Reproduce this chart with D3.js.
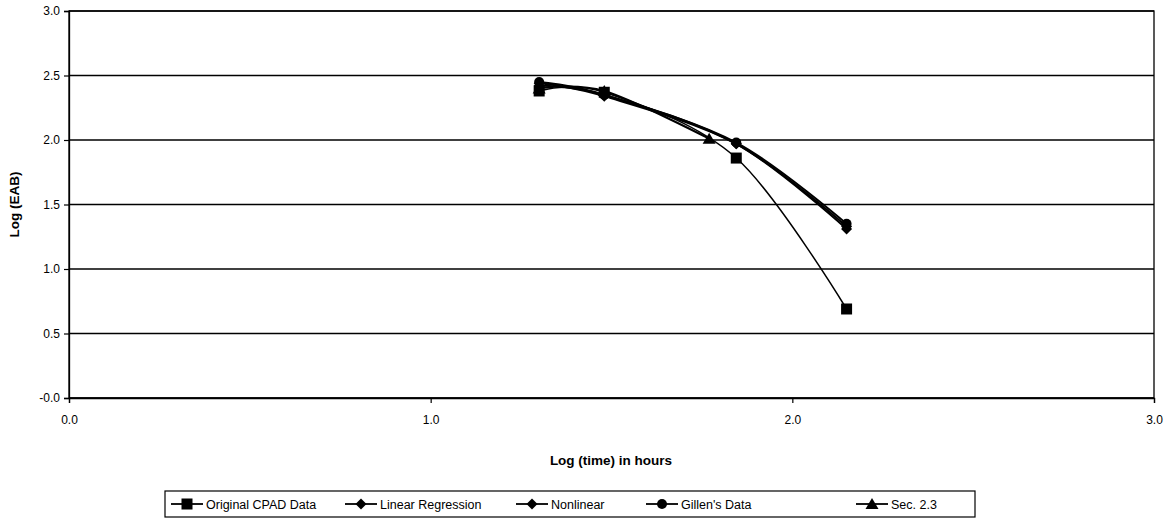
<!DOCTYPE html>
<html><head><meta charset="utf-8">
<script src="https://cdn.jsdelivr.net/npm/d3@7/dist/d3.min.js"></script>
<style>
body{margin:0;background:#fff;}
svg{display:block;font-family:"Liberation Sans",Arial,sans-serif;}
</style></head>
<body><svg id="c" width="1174" height="531"></svg>
<script>
// ---- data ----
const seriesNames = ["Original CPAD Data","Linear Regression","Nonlinear","Gillen's Data","Sec. 2.3"];
const markerTypes = ["square","diamond","diamond","circle","triangle"];
const cpadX = [1.30, 1.48, 1.845, 2.15];
const cpadY = [2.38, 2.37, 1.86, 0.69];
const linX = [1.30, 1.48, 1.845, 2.15];
const linY = [2.42, 2.35, 1.97, 1.31];
const nonX = [1.30, 1.48, 1.845, 2.15];
const nonY = [2.44, 2.34, 1.97, 1.33];
const gilX = [1.30, 1.48, 1.845, 2.15];
const gilY = [2.45, 2.35, 1.98, 1.35];
const secX = [1.30, 1.48, 1.77];
const secY = [2.40, 2.38, 2.01];
const xTicks = [0, 1, 2, 3];
const yTicks = [0, 0.5, 1.0, 1.5, 2.0, 2.5, 3.0];
const yTickLabels = ["-0.0","0.5","1.0","1.5","2.0","2.5","3.0"];
const xTickLabels = ["0.0","1.0","2.0","3.0"];

const seriesData = [
  d3.zip(cpadX, cpadY), d3.zip(linX, linY), d3.zip(nonX, nonY),
  d3.zip(gilX, gilY), d3.zip(secX, secY)
];
const lineWidths = [1.5, 2, 2, 2, 2];

const svg = d3.select("#c");
const L = 69, R = 1154, T = 11, B = 398;
const x = d3.scaleLinear().domain([0, 3]).range([L, R]);
const y = d3.scaleLinear().domain([0, 3]).range([B, T]);

// gridlines
svg.append("g").selectAll("line").data(yTicks).join("line")
  .attr("x1", L).attr("x2", R).attr("y1", d => y(d)).attr("y2", d => y(d))
  .attr("stroke", "#000").attr("stroke-width", 1.3);
// border
svg.append("rect").attr("x", L).attr("y", T).attr("width", R - L).attr("height", B - T)
  .attr("fill", "none").attr("stroke", "#000").attr("stroke-width", 1.3);

// axes
const yAxis = d3.axisLeft(y).tickValues(yTicks).tickSize(5).tickPadding(4)
  .tickFormat((d, i) => yTickLabels[i]);
const gy = svg.append("g").attr("transform", `translate(${L},0)`).call(yAxis);
const xAxis = d3.axisBottom(x).tickValues(xTicks).tickSize(5).tickPadding(12)
  .tickFormat((d, i) => xTickLabels[i]);
const gx = svg.append("g").attr("transform", `translate(0,${B})`).call(xAxis);
[gx, gy].forEach(g => {
  g.select(".domain").attr("stroke", "#000").attr("stroke-width", 1.3);
  g.selectAll(".tick line").attr("stroke", "#000").attr("stroke-width", 1.2);
  g.selectAll("text").attr("font-size", 12).attr("fill", "#000")
    .attr("font-family", "'Liberation Sans',Arial,sans-serif");
});

// titles
svg.append("text").attr("x", 611).attr("y", 465).attr("text-anchor", "middle")
  .attr("font-size", 13.5).attr("font-weight", "bold").text("Log (time) in hours");
svg.append("text").attr("transform", `translate(19,${(T + B) / 2}) rotate(-90)`)
  .attr("text-anchor", "middle").attr("font-size", 13.5).attr("font-weight", "bold").text("Log (EAB)");

// lines
const line = d3.line().x(d => x(d[0])).y(d => y(d[1])).curve(d3.curveCardinal.tension(0));
const drawOrder = [4, 1, 2, 3, 0];
drawOrder.forEach(i => {
  svg.append("path").attr("d", line(seriesData[i])).attr("fill", "none")
    .attr("stroke", "#000").attr("stroke-width", lineWidths[i]);
});

function marker(g, type, cx, cy) {
  if (type === "square") {
    g.append("rect").attr("x", cx - 5.5).attr("y", cy - 5.5).attr("width", 11).attr("height", 11).attr("fill", "#000");
  } else if (type === "diamond") {
    g.append("path").attr("d", `M${cx},${cy-5.5}L${cx+5.5},${cy}L${cx},${cy+5.5}L${cx-5.5},${cy}Z`).attr("fill", "#000");
  } else if (type === "circle") {
    g.append("circle").attr("cx", cx).attr("cy", cy).attr("r", 5).attr("fill", "#000");
  } else if (type === "triangle") {
    g.append("path").attr("d", `M${cx},${cy-6}L${cx+6.5},${cy+5}L${cx-6.5},${cy+5}Z`).attr("fill", "#000");
  }
}
const mg = svg.append("g");
drawOrder.forEach(i => {
  seriesData[i].forEach(d => marker(mg, markerTypes[i], x(d[0]), y(d[1])));
});

// legend
const lg = svg.append("g");
lg.append("rect").attr("x", 165).attr("y", 491).attr("width", 810).attr("height", 26)
  .attr("fill", "#fff").attr("stroke", "#000").attr("stroke-width", 1.2);
const legX = [171, 345, 516, 646, 856];
seriesNames.forEach((n, i) => {
  const lx = legX[i];
  lg.append("line").attr("x1", lx).attr("x2", lx + 32).attr("y1", 504).attr("y2", 504)
    .attr("stroke", "#000").attr("stroke-width", 1.8);
  marker(lg, markerTypes[i], lx + 16, 504);
  lg.append("text").attr("x", lx + 35).attr("y", 508.5).attr("font-size", 12.5).text(n);
});
</script></body></html>
